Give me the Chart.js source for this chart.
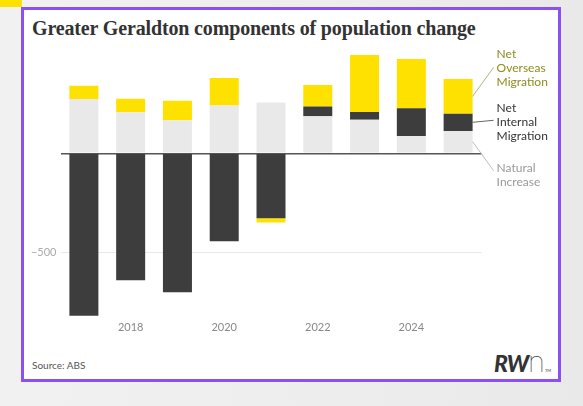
<!DOCTYPE html>
<html>
<head>
<meta charset="utf-8">
<script src="https://cdn.jsdelivr.net/npm/chart.js@4.4.1/dist/chart.umd.min.js"></script>
<style>
  html, body { margin: 0; padding: 0; }
  body {
    width: 583px; height: 406px; overflow: hidden; position: relative;
    background: linear-gradient(90deg, #f1f1f1 0%, #ededed 60%, #e9e9e9 100%);
    font-family: Lato, sans-serif;
  }
  #corner { position: absolute; left: 0; top: 0; width: 22px; height: 7px; background: #ffe100; }
  #frame {
    position: absolute; left: 21px; top: 7px; width: 534px; height: 369px;
    border: 3px solid #8b50f2; background: #fff;
  }
  #title {
    position: absolute; left: 32px; top: 17px;
    font-family: "Liberation Serif", serif; font-weight: bold; font-size: 20px;
    color: #333; letter-spacing: -0.15px; white-space: nowrap;
  }
  #source { position: absolute; left: 32px; top: 359px; font-size: 10px; color: #555; }
  #logo { position: absolute; left: 494px; top: 349px; font-size: 23px; color: #333; white-space: nowrap; }
  #logo b { font-style: italic; font-weight: 900; letter-spacing: -1px; }
  #logo span { font-weight: 100; font-family: Inter, sans-serif; font-size: 29px; line-height: 23px; }
  #logo small { font-size: 4px; }
  canvas { position: absolute; left: 0; top: 0; }
</style>
</head>
<body>
<div id="corner"></div>
<div id="frame"></div>
<div id="title">Greater Geraldton components of population change</div>
<div id="source">Source: ABS</div>
<div id="logo"><b>RW</b><span>n</span><small>TM</small></div>
<canvas id="mycanvas" width="583" height="406"></canvas>
<script>
// data
var years = ['2017', '2018', '2019', '2020', '2021', '2022', '2023', '2024', '2025'];
var naturalIncrease = [274, 207, 167, 242, 256, 187, 170, 87, 113];
var netInternal = [-820, -641, -702, -444, -328, 49, 39, 140, 87];
var netOverseas = [67, 69, 98, 138, -22, 109, 288, 249, 175];
var yTicks = [-500, 0];
var seriesNames = ['Natural Increase', 'Net Internal Migration', 'Net Overseas Migration'];

// callouts on the right, tied to the last bar of each series
var callouts = [
	{ ds: 2, lines: ['Net', 'Overseas', 'Migration'], color: '#8c8c1c', lineColor: '#b3b37a', dy: -42, ly: -29 },
	{ ds: 1, lines: ['Net', 'Internal', 'Migration'], color: '#333333', lineColor: '#666666', dy: -14, ly: -2 },
	{ ds: 0, lines: ['Natural', 'Increase'], color: '#999999', lineColor: '#bbbbbb', dy: 26, ly: 29 }
];

var calloutPlugin = {
	id: 'callouts',
	afterDatasetsDraw: function(chart) {
		var ctx = chart.ctx;
		ctx.save();
		ctx.font = '12px Lato';
		ctx.textBaseline = 'middle';
		callouts.forEach(function(c) {
			var bars = chart.getDatasetMeta(c.ds).data;
			var bar = bars[bars.length - 1];
			var x0 = bar.x + bar.width / 2;
			var mid = (bar.y + bar.base) / 2;
			var tx = x0 + 24;
			ctx.strokeStyle = c.lineColor;
			ctx.lineWidth = 1;
			ctx.beginPath();
			ctx.moveTo(x0, mid);
			ctx.lineTo(x0 + 21, mid + c.ly);
			ctx.stroke();
			ctx.fillStyle = c.color;
			c.lines.forEach(function(t, i) {
				ctx.fillText(t, tx, mid + c.dy + i * 14);
			});
		});
		ctx.restore();
	}
};

var chartdata = {
	labels: years,
	datasets: [
		{ label: seriesNames[0], data: naturalIncrease, backgroundColor: '#e9e9e9' },
		{ label: seriesNames[1], data: netInternal, backgroundColor: '#3d3d3d' },
		{ label: seriesNames[2], data: netOverseas, backgroundColor: '#ffe100' }
	]
};

var ctx = document.getElementById('mycanvas');
var barGraph = new Chart(ctx, {
	type: 'bar',
	data: chartdata,
	plugins: [calloutPlugin],
	options: {
		responsive: false,
		animation: false,
		layout: { padding: { left: 0, right: 101.5, top: 34.5, bottom: 0 } },
		datasets: { bar: { barPercentage: 0.62, categoryPercentage: 1, borderWidth: 0 } },
		plugins: { legend: { display: false }, tooltip: { enabled: false } },
		scales: {
			x: {
				stacked: true,
				grid: { display: false, drawTicks: false },
				border: { display: false },
				ticks: {
					autoSkip: false, maxRotation: 0, padding: 1,
					color: '#888', font: { family: 'Lato', size: 11 },
					callback: function(v, i) { return years[i] % 2 === 0 ? years[i] : ''; }
				},
				afterFit: function(scale) { scale.height = 86.4; }
			},
			y: {
				stacked: true,
				min: -840,
				max: 600,
				afterBuildTicks: function(scale) {
					scale.ticks = yTicks.map(function(v) { return { value: v }; });
				},
				afterFit: function(scale) { scale.width = 60.5; },
				border: { display: false },
				grid: {
					drawTicks: false,
					color: function(c) { return c.tick && c.tick.value === 0 ? '#555555' : '#e8e8e8'; },
					lineWidth: function(c) { return c.tick && c.tick.value === 0 ? 1.5 : 1; }
				},
				ticks: {
					padding: 4, color: '#aaa', font: { family: 'Lato', size: 11 },
					callback: function(v) { return v === 0 ? '' : '\u2212' + Math.abs(v); }
				}
			}
		}
	}
});
</script>
</body>
</html>
